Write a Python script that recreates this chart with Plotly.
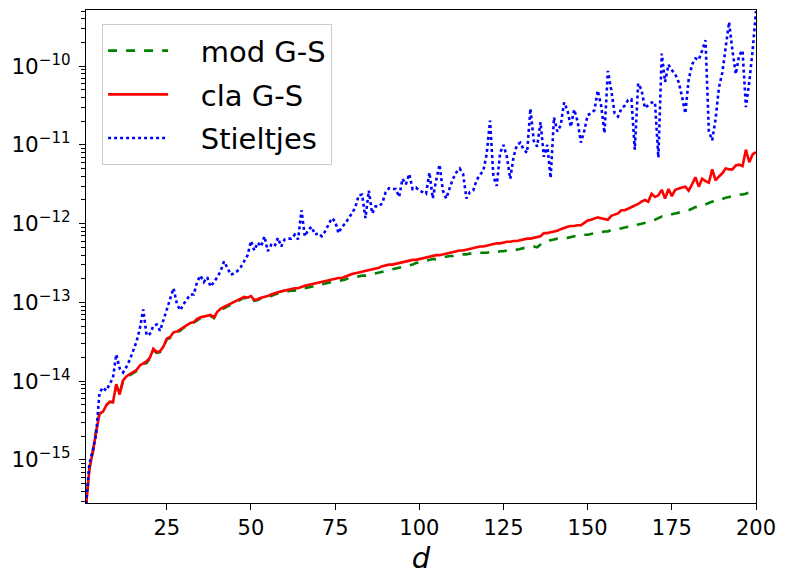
import plotly.graph_objects as go

# dimension d = 1..200
d = list(range(1, 201))

# log10 of the error
cla_log10 = [
    -15.60, -15.12, -14.90, -14.63, -14.41, -14.39, -14.31, -14.26, -14.27, -14.04,
    -14.17, -13.99, -13.94, -13.91, -13.89, -13.86, -13.80, -13.77, -13.75, -13.70,
    -13.59, -13.63, -13.62, -13.56, -13.46, -13.44, -13.38, -13.37, -13.34, -13.31,
    -13.29, -13.26, -13.25, -13.21, -13.19, -13.18, -13.17, -13.16, -13.19, -13.12,
    -13.08, -13.06, -13.04, -13.01, -12.99, -12.97, -12.95, -12.93, -12.94, -12.92,
    -12.97, -12.96, -12.94, -12.93, -12.92, -12.90, -12.88, -12.87, -12.86, -12.85,
    -12.84, -12.83, -12.82, -12.82, -12.80, -12.79, -12.78, -12.77, -12.76, -12.75,
    -12.74, -12.73, -12.72, -12.71, -12.70, -12.69, -12.69, -12.67, -12.65, -12.64,
    -12.63, -12.62, -12.61, -12.60, -12.59, -12.58, -12.57, -12.56, -12.54, -12.53,
    -12.52, -12.52, -12.51, -12.50, -12.49, -12.48, -12.47, -12.46, -12.46, -12.45,
    -12.44, -12.43, -12.42, -12.41, -12.40, -12.40, -12.39, -12.38, -12.37, -12.36,
    -12.35, -12.34, -12.34, -12.33, -12.32, -12.31, -12.30, -12.29, -12.29, -12.28,
    -12.27, -12.26, -12.25, -12.25, -12.24, -12.23, -12.23, -12.22, -12.22, -12.21,
    -12.20, -12.19, -12.19, -12.18, -12.17, -12.16, -12.12, -12.12, -12.11, -12.10,
    -12.09, -12.07, -12.05, -12.04, -12.03, -12.03, -12.02, -12.02, -11.99, -11.96,
    -11.95, -11.93, -11.92, -11.93, -11.94, -11.95, -11.90, -11.88, -11.87, -11.83,
    -11.83, -11.81, -11.79, -11.78, -11.75, -11.72, -11.70, -11.72, -11.62, -11.66,
    -11.64, -11.57, -11.68, -11.56, -11.65, -11.57, -11.55, -11.54, -11.53, -11.58,
    -11.50, -11.41, -11.53, -11.43, -11.46, -11.48, -11.31, -11.45, -11.40, -11.36,
    -11.30, -11.31, -11.31, -11.26, -11.25, -11.27, -11.06, -11.22, -11.12, -11.09,
]

mod_log10 = [
    -15.62, -15.10, -14.92, -14.62, -14.41, -14.40, -14.30, -14.27, -14.26, -14.05,
    -14.15, -14.00, -13.95, -13.93, -13.90, -13.87, -13.82, -13.78, -13.77, -13.71,
    -13.61, -13.64, -13.63, -13.57, -13.47, -13.45, -13.40, -13.38, -13.36, -13.32,
    -13.31, -13.28, -13.26, -13.23, -13.20, -13.19, -13.19, -13.17, -13.20, -13.13,
    -13.10, -13.07, -13.05, -13.03, -13.01, -12.99, -12.97, -12.94, -12.96, -12.93,
    -12.98, -12.97, -12.95, -12.94, -12.93, -12.92, -12.90, -12.89, -12.88, -12.87,
    -12.86, -12.85, -12.85, -12.84, -12.82, -12.82, -12.81, -12.80, -12.79, -12.78,
    -12.77, -12.76, -12.75, -12.74, -12.73, -12.73, -12.72, -12.71, -12.69, -12.68,
    -12.68, -12.67, -12.66, -12.66, -12.65, -12.64, -12.63, -12.62, -12.61, -12.60,
    -12.59, -12.58, -12.57, -12.56, -12.55, -12.54, -12.53, -12.52, -12.50, -12.49,
    -12.48, -12.47, -12.46, -12.45, -12.45, -12.44, -12.43, -12.42, -12.41, -12.41,
    -12.40, -12.40, -12.39, -12.39, -12.38, -12.38, -12.38, -12.37, -12.37, -12.37,
    -12.36, -12.37, -12.36, -12.35, -12.35, -12.34, -12.34, -12.33, -12.33, -12.32,
    -12.31, -12.30, -12.30, -12.29, -12.30, -12.26, -12.23, -12.21, -12.21, -12.20,
    -12.19, -12.19, -12.18, -12.18, -12.17, -12.16, -12.16, -12.15, -12.14, -12.14,
    -12.13, -12.12, -12.12, -12.11, -12.10, -12.10, -12.08, -12.08, -12.07, -12.06,
    -12.05, -12.04, -12.04, -12.02, -12.01, -12.00, -11.99, -11.98, -11.96, -11.95,
    -11.93, -11.91, -11.91, -11.89, -11.88, -11.87, -11.86, -11.85, -11.84, -11.83,
    -11.81, -11.79, -11.79, -11.77, -11.75, -11.74, -11.72, -11.72, -11.70, -11.69,
    -11.67, -11.66, -11.65, -11.64, -11.63, -11.63, -11.62, -11.60, -11.59, -11.58,
]

stieltjes_log10 = [
    -15.56, -15.05, -14.88, -14.68, -14.15, -14.08, -14.12, -14.04, -13.96, -13.66,
    -13.84, -13.89, -13.82, -13.73, -13.62, -13.50, -13.33, -13.09, -13.42, -13.40,
    -13.30, -13.28, -13.36, -13.22, -13.10, -12.93, -12.82, -13.02, -13.10, -13.02,
    -12.96, -12.90, -12.90, -12.74, -12.66, -12.74, -12.68, -12.80, -12.74, -12.68,
    -12.60, -12.48, -12.56, -12.65, -12.63, -12.60, -12.55, -12.47, -12.40, -12.22,
    -12.34, -12.24, -12.29, -12.16, -12.35, -12.27, -12.29, -12.18, -12.29, -12.20,
    -12.19, -12.19, -12.14, -12.20, -11.83, -12.16, -12.08, -12.04, -12.14, -12.12,
    -12.16, -12.10, -12.02, -11.93, -11.97, -12.12, -12.04, -12.00, -11.93, -11.87,
    -11.79, -11.64, -11.63, -11.93, -11.58, -11.87, -11.78, -11.78, -11.74, -11.60,
    -11.55, -11.56, -11.56, -11.66, -11.43, -11.50, -11.37, -11.56, -11.54, -11.58,
    -11.60, -11.62, -11.35, -11.68, -11.45, -11.25, -11.58, -11.68, -11.55, -11.43,
    -11.35, -11.30, -11.37, -11.68, -11.60, -11.58, -11.45, -11.38, -11.33, -11.12,
    -10.69, -11.40, -11.52, -11.10, -11.00, -11.15, -11.43, -11.15, -11.00, -10.97,
    -11.06, -11.10, -10.54, -10.95, -11.02, -10.71, -11.15, -11.00, -11.42, -10.65,
    -10.83, -10.75, -10.46, -10.56, -10.77, -10.55, -10.70, -10.97, -10.82, -10.62,
    -10.60, -10.56, -10.31, -10.50, -10.85, -10.06, -10.30, -10.60, -10.64, -10.54,
    -10.50, -10.43, -10.42, -11.06, -10.22, -10.30, -10.53, -10.50, -10.46, -10.46,
    -11.16, -9.84, -10.20, -9.98, -10.05, -10.10, -10.20, -10.38, -10.60, -10.17,
    -9.98, -9.90, -9.92, -9.80, -9.67, -10.83, -10.94, -10.67, -10.27, -10.08,
    -9.79, -9.44, -9.80, -10.10, -9.86, -9.80, -10.52, -10.20, -9.80, -9.30,
]

series_names = ["mod G-S", "cla G-S", "Stieltjes"]
series_colors = ["green", "red", "blue"]
series_dashes = ["dash", "solid", "dot"]
series_logs = [mod_log10, cla_log10, stieltjes_log10]

x_ticks = [25, 50, 75, 100, 125, 150, 175, 200]
y_exponents = [-15, -14, -13, -12, -11, -10]

FONT = "DejaVu Sans"
PAD = "\u00a0\u00a0\u00a0"  # gap between legend line sample and its label

fig = go.Figure()
for name, col, dash, logs in zip(series_names, series_colors, series_dashes, series_logs):
    fig.add_trace(go.Scatter(
        x=d, y=[10 ** v for v in logs], mode="lines", name=PAD + name,
        legendgroup=name,
        line=dict(color=col, width=2.6, dash=dash),
    ))

minor_vals = [k * 10.0 ** e for e in range(-16, -8) for k in range(2, 10)]

fig.update_layout(
    width=785, height=578,
    margin=dict(l=86, r=24, t=9, b=66),
    paper_bgcolor="white", plot_bgcolor="white",
    font=dict(family=FONT, color="black", size=21),
    showlegend=True,
    legend=dict(
        x=0.024, y=0.971, xanchor="left", yanchor="top",
        bgcolor="rgba(255,255,255,0.8)", bordercolor="#cccccc", borderwidth=1,
        font=dict(family=FONT, size=29, color="black"),
        tracegroupgap=3, itemwidth=60,
    ),
    xaxis=dict(
        range=[1, 200], tickvals=x_ticks, ticktext=[str(t) for t in x_ticks],
        showgrid=False, zeroline=False,
        showline=True, linecolor="black", linewidth=1.3, mirror=True,
        ticks="outside", ticklen=6, tickwidth=1.3, tickcolor="black",
        tickfont=dict(family=FONT, size=21),
        title=dict(text="<i>d</i>", font=dict(family=FONT, size=29), standoff=8),
    ),
    yaxis=dict(
        type="log", range=[-15.548, -9.286],
        tickvals=[10.0 ** e for e in y_exponents],
        ticktext=["10<sup>\u2212%d</sup>" % (-e) for e in y_exponents],
        showgrid=False, zeroline=False,
        showline=True, linecolor="black", linewidth=1.3, mirror=True,
        ticks="outside", ticklen=6, tickwidth=1.3, tickcolor="black",
        tickfont=dict(family=FONT, size=21.5),
        ticklabelstandoff=4,
        minor=dict(tickvals=minor_vals, ticks="outside", ticklen=3.5,
                   tickwidth=1, tickcolor="black", showgrid=False),
    ),
)

fig.write_html("out.html")
